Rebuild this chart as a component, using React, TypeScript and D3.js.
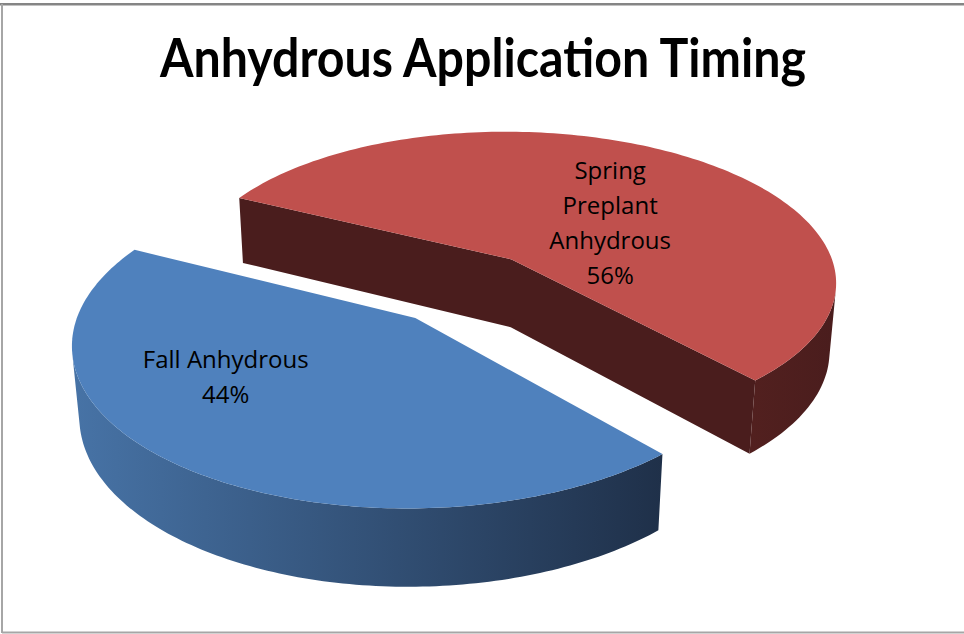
import React, { useEffect, useRef } from 'react';
import * as d3 from 'd3';

// chart data
const categories = ['Fall Anhydrous', 'Spring Preplant Anhydrous'];
const shares = [44, 56];
const labelLines = [
  ['Fall Anhydrous', '44%'],
  ['Spring', 'Preplant', 'Anhydrous', '56%'],
];
const title = 'Anhydrous Application Timing';

const topColors = ['#4f81bd', '#c0504d'];
const wallColors = [
  ['#4773a6', '#1f3049'],
  ['#52201f', '#4a1d1d'],
];

// 3d view: centre x/y, focal length, camera distance (in radii), tilt, depth, explosion, rotation
const view = {
  cx: 464.74, cy: 287.93, f: 2031.7, dist: 6.172,
  tilt: 0.4853, depth: 0.2419, explode: 0.2404, rot: 0.8418,
};

const App: React.FC = () => {
  const ref = useRef<SVGSVGElement>(null);

  useEffect(() => {
    const svg = d3.select(ref.current);
    svg.selectAll('*').remove();

    const { cx, cy, f, dist, tilt, depth, explode, rot } = view;
    const S = Math.sin(tilt), C = Math.cos(tilt);
    // perspective projection of a world point (x right, y up, z toward viewer)
    const proj = (X: number, Y: number, Z: number): [number, number] => {
      const d = dist - Y * S - Z * C;
      return [cx + (f * X) / d, cy + (f * (Z * S - Y * C)) / d];
    };

    const arcs = d3.pie<number>().sort(null).value(d => d)(shares);
    const frames = arcs.map(a => {
      const s0 = rot + a.startAngle, s1 = rot + a.endAngle, m = (s0 + s1) / 2;
      return { s0, s1, m, ex: explode * Math.cos(m), ez: explode * Math.sin(m) };
    });

    const defs = svg.append('defs');
    const line = d3.line();
    const N = 160;

    // back to front
    const order = frames.map((_, i) => i).sort((a, b) => frames[a].ez - frames[b].ez);
    order.forEach(i => {
      const g = frames[i];
      const top = (t: number) => proj(g.ex + Math.cos(t), 0, g.ez + Math.sin(t));
      const bot = (t: number) => proj(g.ex + Math.cos(t), -depth, g.ez + Math.sin(t));
      const apT = proj(g.ex, 0, g.ez), apB = proj(g.ex, -depth, g.ez);
      const ts = d3.range(N + 1).map(k => g.s0 + ((g.s1 - g.s0) * k) / N);
      const layer = svg.append('g');

      // cut faces (drawn as one shape when both show, so no seam at the apex)
      const v0 = -g.ex * Math.sin(g.s0) - (dist * C - g.ez) * Math.cos(g.s0) > 0;
      const v1 = g.ex * Math.sin(g.s1) + (dist * C - g.ez) * Math.cos(g.s1) > 0;
      let cut: [number, number][] | null = null;
      if (v0 && v1) cut = [top(g.s0), apT, top(g.s1), bot(g.s1), apB, bot(g.s0)];
      else if (v0) cut = [apT, top(g.s0), bot(g.s0), apB];
      else if (v1) cut = [apT, top(g.s1), bot(g.s1), apB];
      if (cut) {
        layer.append('path')
          .attr('d', line(cut) + 'Z')
          .attr('fill', wallColors[i][1]);
      }

      // outer wall, only where it faces the camera
      const visible = (t: number) =>
        -1 - g.ex * Math.cos(t) + (dist * C - g.ez) * Math.sin(t) > 0;
      const runs: number[][] = [];
      let cur: number[] = [];
      ts.forEach(t => {
        if (visible(t)) cur.push(t);
        else if (cur.length) { runs.push(cur); cur = []; }
      });
      if (cur.length) runs.push(cur);
      runs.forEach((run, ri) => {
        const pts = run.map(top).concat(run.slice().reverse().map(bot));
        const xs = pts.map(q => q[0]);
        const gid = `wall${i}_${ri}`;
        const grad = defs.append('linearGradient').attr('id', gid)
          .attr('gradientUnits', 'userSpaceOnUse')
          .attr('x1', d3.min(xs)!).attr('x2', d3.max(xs)!).attr('y1', 0).attr('y2', 0);
        grad.append('stop').attr('offset', '0%').attr('stop-color', wallColors[i][0]);
        grad.append('stop').attr('offset', '100%').attr('stop-color', wallColors[i][1]);
        layer.append('path').attr('d', line(pts) + 'Z').attr('fill', `url(#${gid})`);
      });

      // top face
      layer.append('path')
        .attr('d', line([apT, ...ts.map(top)]) + 'Z')
        .attr('fill', topColors[i]);
    });

    // data labels
    const labelR = [0.66, 0.41];
    const labelShift = [17.5, 9.5];
    const nudge = [[7, -6], [8, 3]];
    const lh = 35;
    frames.forEach((g, i) => {
      const a = g.m + (labelShift[i] * Math.PI) / 180;
      const [lx, ly] = proj(g.ex + labelR[i] * Math.cos(a), 0, g.ez + labelR[i] * Math.sin(a));
      const lines = labelLines[i];
      const y0 = ly + nudge[i][1] - ((lines.length - 1) * lh) / 2 + 8.5;
      svg.append('text')
        .attr('text-anchor', 'middle')
        .attr('font-family', '"Open Sans", sans-serif')
        .attr('font-size', 24)
        .attr('fill', '#000')
        .selectAll('tspan')
        .data(lines)
        .join('tspan')
        .attr('x', lx + nudge[i][0])
        .attr('y', (_, k) => y0 + k * lh)
        .text(d => d);
    });

    // title
    svg.append('text')
      .attr('x', 483).attr('y', 77)
      .attr('text-anchor', 'middle')
      .attr('font-family', 'Lato, sans-serif')
      .attr('font-weight', 'bold')
      .attr('font-size', 53)
      .attr('textLength', 646)
      .attr('lengthAdjust', 'spacingAndGlyphs')
      .text(title);

    // frame
    svg.append('line').attr('x1', 0).attr('x2', 964).attr('y1', 4.2).attr('y2', 4.2)
      .attr('stroke', '#858585').attr('stroke-width', 2.5);
    svg.append('line').attr('x1', 2).attr('x2', 2).attr('y1', 4).attr('y2', 633)
      .attr('stroke', '#a6a6a6').attr('stroke-width', 2);
    svg.append('line').attr('x1', 2).attr('x2', 964).attr('y1', 632.5).attr('y2', 632.5)
      .attr('stroke', '#a6a6a6').attr('stroke-width', 2);
  }, []);

  return (
    <svg ref={ref} width={964} height={634}
      style={{ position: 'absolute', left: 0, top: 0, background: '#fff' }}
      aria-label={categories.join(', ')} />
  );
};

export default App;
